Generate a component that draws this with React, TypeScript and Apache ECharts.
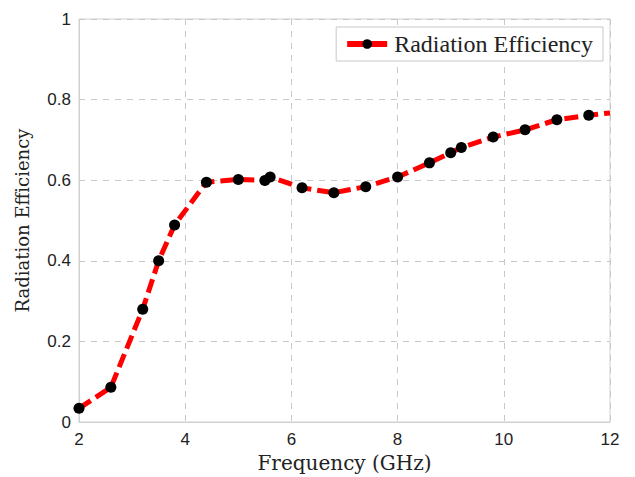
import React, { useEffect, useRef } from "react";
import * as echarts from "echarts";

const freq = [2, 2.6, 3.2, 3.5, 3.8, 4.4, 5, 5.5, 5.6, 6.2, 6.8, 7.4, 8, 8.6, 9, 9.2, 9.8, 10.4, 11, 11.6, 12];
const efficiency = [0.034, 0.086, 0.28, 0.4, 0.489, 0.595, 0.602, 0.599, 0.608, 0.581, 0.569, 0.584, 0.608, 0.643, 0.668, 0.681, 0.707, 0.725, 0.75, 0.761, 0.767];
const markerHidden = [false, false, false, false, false, false, false, false, false, false, false, false, false, false, false, false, false, false, false, false, true];
const seriesName = "Radiation Efficiency";
const xTitle = "Frequency (GHz)";
const yTitle = "Radiation Efficiency";

export default function App() {
  const ref = useRef<HTMLDivElement>(null);
  useEffect(() => {
    if (!ref.current) return;
    const chart = echarts.init(ref.current, undefined, { renderer: "svg" });
    const serif = "DejaVu Serif";
    const data = freq.map((f, i) =>
      markerHidden[i] ? { value: [f, efficiency[i]], symbol: "none" } : { value: [f, efficiency[i]] }
    );
    chart.setOption({
      animation: false,
      backgroundColor: "#fff",
      grid: {
        left: 79,
        right: 25,
        top: 19,
        bottom: 55,
        show: true,
        borderColor: "#d0d0d0",
        borderWidth: 1,
        containLabel: false,
        outerBoundsMode: "none",
      },
      legend: {
        right: 32,
        top: 27,
        orient: "horizontal",
        padding: [5, 10, 5, 8],
        borderColor: "#c8c8c8",
        borderWidth: 1,
        backgroundColor: "#fff",
        itemWidth: 40,
        itemHeight: 12,
        itemGap: 10,
        lineStyle: { width: 6, color: "#ff0000", type: "solid" },
        textStyle: { fontFamily: "Liberation Serif", fontSize: 24, color: "#222", padding: [0, 0, 0, 2] },
        data: [seriesName],
      },
      xAxis: {
        type: "value",
        min: 2,
        max: 12,
        interval: 2,
        name: xTitle,
        nameLocation: "middle",
        nameGap: 29,
        nameTextStyle: { fontFamily: serif, fontSize: 20, color: "#222" },
        axisLine: { show: true, lineStyle: { color: "#d0d0d0" } },
        axisTick: { show: false },
        axisLabel: { fontFamily: "Liberation Sans", fontSize: 17, color: "#222", margin: 9 },
        splitLine: { show: true, lineStyle: { color: "#c8c8c8", type: [6, 6] } },
      },
      yAxis: {
        type: "value",
        min: 0,
        max: 1,
        interval: 0.2,
        name: yTitle,
        nameLocation: "middle",
        nameGap: 48,
        nameTextStyle: { fontFamily: serif, fontSize: 18, color: "#222" },
        axisLine: { show: true, lineStyle: { color: "#d0d0d0" } },
        axisTick: { show: false },
        axisLabel: {
          fontFamily: "Liberation Sans",
          fontSize: 17,
          color: "#222",
          margin: 8,
          formatter: (v: number) => (v === 0 || v === 1 ? String(v) : v.toFixed(1)),
        },
        splitLine: { show: true, lineStyle: { color: "#c8c8c8", type: [6, 6] } },
      },
      series: [
        {
          name: seriesName,
          type: "line",
          data,
          symbol: "circle",
          symbolSize: 11,
          itemStyle: { color: "#000" },
          lineStyle: { color: "#ff0000", width: 5, type: [14, 6] },
        },
      ],
    });
    return () => chart.dispose();
  }, []);
  return <div ref={ref} style={{ position: "absolute", left: 0, top: 0, width: 635, height: 477 }} />;
}
